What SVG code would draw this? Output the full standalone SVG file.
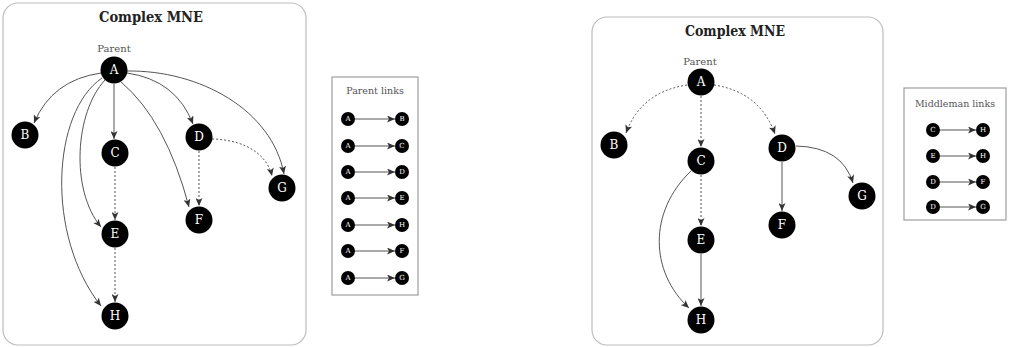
<svg xmlns="http://www.w3.org/2000/svg" width="1009" height="347" viewBox="0 0 1009 347">
<style>
.panel{fill:#fff;stroke:#bdbdbd;stroke-width:1.2}
.box{fill:#fff;stroke:#9e9e9e;stroke-width:1.2}
.title{font-family:"DejaVu Serif",serif;font-weight:bold;font-size:14.5px;fill:#222;text-anchor:middle}
.sub{font-family:"DejaVu Serif",serif;font-size:10px;fill:#555;text-anchor:middle}
.ltitle{font-family:"DejaVu Serif",serif;font-size:9.5px;fill:#555;text-anchor:middle}
.node circle{fill:#000}
.node text{font-family:"DejaVu Serif",serif;font-size:12px;fill:#fff;text-anchor:middle;dominant-baseline:central}
.sn circle{fill:#000}
.sn text{font-family:"DejaVu Serif",serif;font-size:7px;fill:#fff;text-anchor:middle;dominant-baseline:central}
.e{fill:none;stroke:#555;stroke-width:1;marker-end:url(#arr)}
.d{stroke-dasharray:2,2}
</style>
<defs>
<marker id="arr" markerUnits="userSpaceOnUse" markerWidth="8" markerHeight="7" refX="8" refY="3.5" orient="auto">
<path d="M0,0 L8,3.5 L0,7 L2,3.5 z" fill="#333"/>
</marker>
</defs>

<rect class="panel" x="3" y="3" width="303" height="342" rx="15"/>
<text class="title" x="151" y="22" textLength="104" lengthAdjust="spacingAndGlyphs">Complex MNE</text>
<text class="sub" x="114" y="52">Parent</text>

<rect class="panel" x="592" y="17" width="291" height="328" rx="15"/>
<text class="title" x="735" y="36" textLength="100" lengthAdjust="spacingAndGlyphs">Complex MNE</text>
<text class="sub" x="700" y="65">Parent</text>

<rect class="box" x="332" y="77" width="86" height="218"/>
<text class="ltitle" x="375" y="94">Parent links</text>

<rect class="box" x="904" y="88" width="102" height="132"/>
<text class="ltitle" x="955" y="107">Middleman links</text>

<g id="connectors">
<!-- left panel -->
<path class="e" d="M101,73 Q52,80 34,123"/>
<path class="e" d="M114,84 L114,139"/>
<path class="e" d="M127,73 Q176,80 193,124"/>
<path class="e" d="M127,71 C200,70 272,110 284,174"/>
<path class="e" d="M121,82 Q166,120 189,207"/>
<path class="e" d="M105,80 C75,112 70,190 101,227"/>
<path class="e" d="M102,78 C52,112 45,235 101,306"/>
<path class="e d" d="M212,139 C250,140 268,158 272,176"/>
<path class="e d" d="M199,151 L199,206"/>
<path class="e d" d="M115,167 L115,220"/>
<path class="e d" d="M115,248 L115,302"/>
<!-- right panel -->
<path class="e d" d="M687,85 Q641,92 626,133"/>
<path class="e d" d="M701,96 L701,147"/>
<path class="e d" d="M714,85 Q760,92 775,134"/>
<path class="e" d="M796,146 Q842,147 853,183"/>
<path class="e" d="M782,162 L782,211"/>
<path class="e d" d="M701,175 L701,226"/>
<path class="e" d="M701,254 L701,306"/>
<path class="e" d="M691,171 C648,212 650,272 689,308"/>
<!-- legend arrows -->
<path class="e" d="M355,119 L395,119"/>
<path class="e" d="M355,146 L395,146"/>
<path class="e" d="M355,172 L395,172"/>
<path class="e" d="M355,198 L395,198"/>
<path class="e" d="M355,225 L395,225"/>
<path class="e" d="M355,251 L395,251"/>
<path class="e" d="M355,278 L395,278"/>
<path class="e" d="M940,130 L976,130"/>
<path class="e" d="M940,156 L976,156"/>
<path class="e" d="M940,182 L976,182"/>
<path class="e" d="M940,207 L976,207"/>
</g>

<g id="L-A" class="node"><circle cx="114" cy="70" r="13.5"/><text x="114" y="70">A</text></g>
<g id="L-B" class="node"><circle cx="25" cy="135" r="13.5"/><text x="25" y="135">B</text></g>
<g id="L-C" class="node"><circle cx="115" cy="153" r="13.5"/><text x="115" y="153">C</text></g>
<g id="L-D" class="node"><circle cx="199" cy="137" r="13.5"/><text x="199" y="137">D</text></g>
<g id="L-E" class="node"><circle cx="115" cy="234" r="13.5"/><text x="115" y="234">E</text></g>
<g id="L-F" class="node"><circle cx="199" cy="220" r="13.5"/><text x="199" y="220">F</text></g>
<g id="L-G" class="node"><circle cx="282" cy="188" r="13.5"/><text x="282" y="188">G</text></g>
<g id="L-H" class="node"><circle cx="115" cy="316" r="13.5"/><text x="115" y="316">H</text></g>

<g id="R-A" class="node"><circle cx="701" cy="82" r="13.5"/><text x="701" y="82">A</text></g>
<g id="R-B" class="node"><circle cx="614" cy="145" r="13.5"/><text x="614" y="145">B</text></g>
<g id="R-C" class="node"><circle cx="701" cy="161" r="13.5"/><text x="701" y="161">C</text></g>
<g id="R-D" class="node"><circle cx="782" cy="148" r="13.5"/><text x="782" y="148">D</text></g>
<g id="R-E" class="node"><circle cx="701" cy="240" r="13.5"/><text x="701" y="240">E</text></g>
<g id="R-F" class="node"><circle cx="782" cy="225" r="13.5"/><text x="782" y="225">F</text></g>
<g id="R-G" class="node"><circle cx="862" cy="196" r="13.5"/><text x="862" y="196">G</text></g>
<g id="R-H" class="node"><circle cx="701" cy="320" r="13.5"/><text x="701" y="320">H</text></g>

<g id="legend-parent">
<g class="sn"><circle cx="348" cy="119" r="7"/><text x="348" y="119">A</text><circle cx="402" cy="119" r="7"/><text x="402" y="119">B</text></g>
<g class="sn"><circle cx="348" cy="146" r="7"/><text x="348" y="146">A</text><circle cx="402" cy="146" r="7"/><text x="402" y="146">C</text></g>
<g class="sn"><circle cx="348" cy="172" r="7"/><text x="348" y="172">A</text><circle cx="402" cy="172" r="7"/><text x="402" y="172">D</text></g>
<g class="sn"><circle cx="348" cy="198" r="7"/><text x="348" y="198">A</text><circle cx="402" cy="198" r="7"/><text x="402" y="198">E</text></g>
<g class="sn"><circle cx="348" cy="225" r="7"/><text x="348" y="225">A</text><circle cx="402" cy="225" r="7"/><text x="402" y="225">H</text></g>
<g class="sn"><circle cx="348" cy="251" r="7"/><text x="348" y="251">A</text><circle cx="402" cy="251" r="7"/><text x="402" y="251">F</text></g>
<g class="sn"><circle cx="348" cy="278" r="7"/><text x="348" y="278">A</text><circle cx="402" cy="278" r="7"/><text x="402" y="278">G</text></g>
</g>

<g id="legend-middleman">
<g class="sn"><circle cx="933" cy="130" r="7"/><text x="933" y="130">C</text><circle cx="983" cy="130" r="7"/><text x="983" y="130">H</text></g>
<g class="sn"><circle cx="933" cy="156" r="7"/><text x="933" y="156">E</text><circle cx="983" cy="156" r="7"/><text x="983" y="156">H</text></g>
<g class="sn"><circle cx="933" cy="182" r="7"/><text x="933" y="182">D</text><circle cx="983" cy="182" r="7"/><text x="983" y="182">F</text></g>
<g class="sn"><circle cx="933" cy="207" r="7"/><text x="933" y="207">D</text><circle cx="983" cy="207" r="7"/><text x="983" y="207">G</text></g>
</g>
</svg>
